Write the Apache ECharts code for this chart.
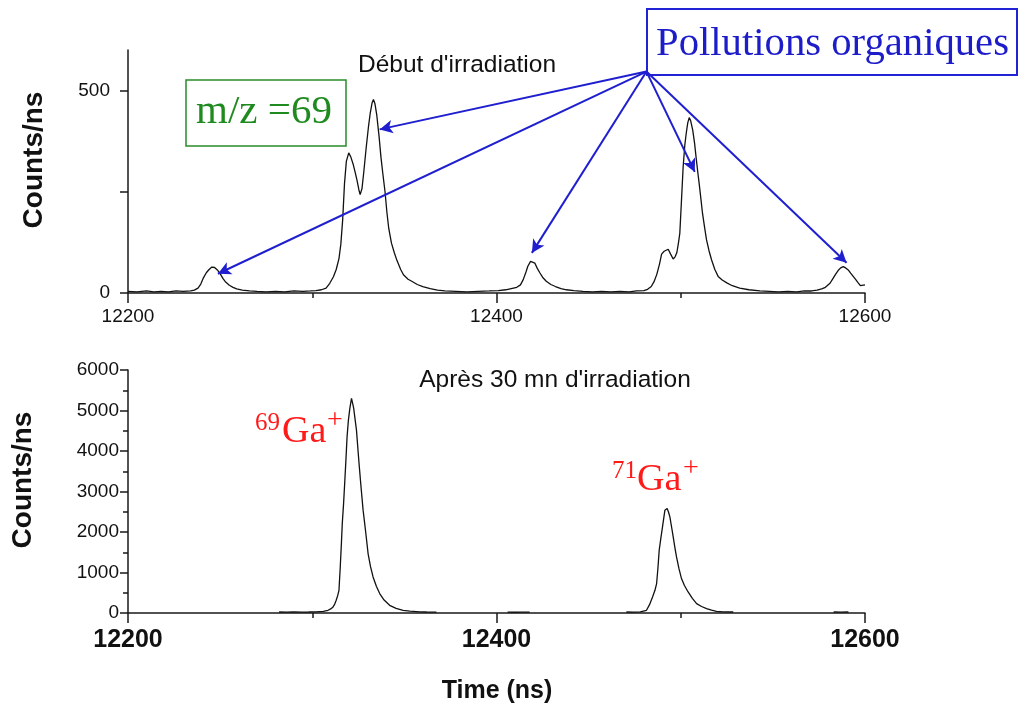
<!DOCTYPE html>
<html>
<head>
<meta charset="utf-8">
<script src="https://cdn.jsdelivr.net/npm/echarts@6/dist/echarts.min.js"></script>
<style>
  html, body { margin: 0; padding: 0; background: #ffffff; }
  #chart { width: 1018px; height: 708px; }
</style>
</head>
<body>
<div id="chart"></div>
<script>
// Time-of-flight spectrum at the start of irradiation (ns, counts/ns)
const topTime = [
  12200, 12205, 12210, 12214, 12218, 12222, 12226, 12230, 12234, 12236,
  12238, 12239.5, 12241, 12242.5, 12244, 12245.5, 12247, 12248.5, 12250, 12251.5,
  12253, 12255, 12257, 12259, 12262, 12266, 12270, 12275, 12280, 12285,
  12290, 12295, 12299, 12302, 12305, 12307.5, 12309.5, 12311.5, 12313, 12314.5,
  12315.5, 12316.5, 12317.5, 12318.5, 12319.8, 12321, 12322.2, 12323.3, 12324.3, 12325.3,
  12326, 12327, 12328, 12329.3, 12330.5, 12331.5, 12332.5, 12333.2, 12334, 12335,
  12336.3, 12337.3, 12338.3, 12339.5, 12340.5, 12341.5, 12343, 12344.5, 12346, 12348,
  12349.5, 12352, 12354, 12357, 12360, 12364, 12368, 12372, 12378, 12384,
  12390, 12396, 12401, 12405, 12408, 12411, 12413, 12414.5, 12416, 12417,
  12418.5, 12419.5, 12420.8, 12422, 12423.5, 12425, 12427, 12429.5, 12432, 12435,
  12438, 12442, 12447, 12452, 12457, 12462, 12467, 12472, 12476, 12480,
  12482, 12484, 12485.5, 12487, 12488.5, 12489.6, 12491, 12492, 12493.2, 12494.5,
  12495.9, 12497, 12497.9, 12498.8, 12499.5, 12500.4, 12501.3, 12502.2, 12503, 12503.8,
  12504.6, 12505.4, 12506.5, 12507.5, 12508.3, 12509.2, 12510, 12511, 12511.8, 12513,
  12514, 12515.3, 12516.7, 12518.5, 12520.3, 12522.5, 12525, 12528, 12532, 12537,
  12543, 12548, 12553, 12558, 12563, 12567, 12571, 12574, 12576.5, 12578.5,
  12581, 12582.5, 12584, 12585.5, 12586.8, 12588.2, 12589.5, 12590.9, 12592.2, 12593.6,
  12595, 12596.3, 12597.5, 12598.5, 12600
];
const topCounts = [
  4, 3, 5, 3, 4, 3, 5, 4, 5, 7,
  12, 22, 38, 50, 58, 64, 63, 57, 48, 36,
  27, 19, 14, 10, 7, 5, 4, 3, 4, 3,
  5, 4, 5, 6, 8, 12, 24, 40, 58, 85,
  120, 180, 270, 325, 346, 335, 318, 298, 278, 255,
  243, 258, 300, 360, 410, 445, 470, 478, 468, 440,
  385, 335, 295, 250, 200, 160, 123, 100, 80, 58,
  45, 34, 29, 21, 16, 11, 7, 5, 4, 3,
  4, 5, 6, 8, 11, 14, 20, 33, 52, 66,
  78, 76, 74, 62, 50, 39, 29, 21, 16, 11,
  8, 6, 4, 3, 4, 3, 4, 3, 5, 6,
  9, 16, 28, 46, 72, 96, 103, 100, 108, 96,
  84, 90, 100, 125, 148, 229, 311, 365, 395, 420,
  433, 425, 402, 370, 336, 300, 270, 230, 197, 160,
  131, 105, 82, 58, 41, 32, 25, 18, 12, 8,
  5, 4, 3, 4, 3, 5, 5, 7, 10, 14,
  24, 35, 46, 56, 62, 65, 62, 57, 49, 41,
  33, 25, 18, 15, 20
];

// Spectrum after 30 min of irradiation; null marks a gap in the recording
const bottomTime = [
  12282, 12286, 12290, 12294, 12298, 12302, 12306, 12308.6, 12310, 12311.3,
  12312.2, 12313, 12313.8, 12314.5, 12315.2, 12315.8, 12316.3, 12317, 12317.6, 12318.3,
  12318.9, 12319.6, 12320.4, 12321.3, 12321.9, 12322.5, 12323.2, 12324, 12324.7, 12325.4,
  12326.5, 12327.6, 12329, 12330.3, 12331.6, 12333, 12334.8, 12336.6, 12339, 12342,
  12345.5, 12349.3, 12353, 12358.4, 12362, 12367.4, 12387,
  12406, 12410, 12414, 12418, 12444,
  12470.5, 12474, 12478, 12481.4, 12483, 12484.7, 12486, 12486.9, 12487.6, 12488.3,
  12489.2, 12490.1, 12491.4, 12492.6, 12493.3, 12494.1, 12495, 12495.9, 12496.8, 12497.7,
  12499, 12500.4, 12502, 12504, 12506.3, 12508.6, 12511.3, 12514, 12516.7, 12519.4,
  12523, 12528.5, 12555,
  12583, 12587, 12591
];
const bottomCounts = [
  25, 20, 28, 22, 25, 30, 40, 67, 100, 150,
  220, 314, 430, 561, 1137, 1700, 2210, 2700, 3199, 3800,
  4351, 4750, 5052, 5300, 5180, 5052, 4800, 4516, 4100, 3693,
  3100, 2539, 2000, 1468, 1150, 890, 660, 480, 320, 190,
  115, 67, 45, 30, 25, 22, null,
  20, 18, 22, 20, null,
  25, 22, 30, 67, 200, 396, 560, 727, 1100, 1550,
  1850, 2126, 2539, 2580, 2500, 2373, 2130, 1879, 1620, 1384,
  1100, 850, 680, 519, 360, 232, 160, 109, 70, 42,
  30, 25, null,
  25, 20, 25
];

const timeTicks = [12200, 12400, 12600];
const topCountTicks = [0, 250, 500];
const topCountLabels = [0, 500];
const bottomCountTicks = [0, 1000, 2000, 3000, 4000, 5000, 6000];

// Arrows from the "Pollutions organiques" box to the contamination peaks
const arrowSource = [12481.4, 546.7];
const arrowTargets = [
  [12336.6, 404],
  [12248.8, 47.5],
  [12419.2, 99],
  [12507.6, 299],
  [12590, 74.5]
];

const SANS = 'Liberation Sans';
const SERIF = 'Liberation Serif';
const INK = '#1a1a1a';
const plain = v => String(v);

function timeAxis(gridIndex, labelSize, labelWeight, margin) {
  return {
    type: 'value', gridIndex: gridIndex,
    min: 12200, max: 12600, interval: 200,
    axisLine: { show: true, onZero: false, lineStyle: { color: INK, width: 1.5 } },
    axisTick: { show: true, length: 10, lineStyle: { color: INK, width: 1.5 } },
    minorTick: { show: true, splitNumber: 2, length: 5, lineStyle: { color: INK, width: 1.5 } },
    splitLine: { show: false },
    axisLabel: {
      customValues: timeTicks,
      fontFamily: SANS, fontSize: labelSize, fontWeight: labelWeight, color: '#111',
      margin: margin, formatter: plain
    }
  };
}

const chart = echarts.init(document.getElementById('chart'), null, { renderer: 'canvas' });

chart.setOption({
  animation: false,
  backgroundColor: '#ffffff',
  grid: [
    { left: 128, right: 153, top: 50, bottom: 415, containLabel: false },
    { left: 128, right: 153, top: 370, bottom: 95, containLabel: false }
  ],
  xAxis: [
    timeAxis(0, 19, 'normal', 14),
    timeAxis(1, 25, 'bold', 15)
  ],
  yAxis: [
    {
      type: 'value', gridIndex: 0, min: 0, max: 600,
      axisLine: { show: true, lineStyle: { color: INK, width: 1.5 } },
      axisTick: { show: true, length: 8, customValues: topCountTicks, lineStyle: { color: INK, width: 1.5 } },
      splitLine: { show: false },
      axisLabel: { customValues: topCountLabels, fontFamily: SANS, fontSize: 19, color: '#111', margin: 18, formatter: plain }
    },
    {
      type: 'value', gridIndex: 1, min: 0, max: 6000, interval: 1000,
      axisLine: { show: true, lineStyle: { color: INK, width: 1.5 } },
      axisTick: { show: true, length: 8, lineStyle: { color: INK, width: 1.5 } },
      minorTick: { show: true, splitNumber: 2, length: 5, lineStyle: { color: INK, width: 1.5 } },
      splitLine: { show: false },
      axisLabel: { customValues: bottomCountTicks, fontFamily: SANS, fontSize: 19, color: '#111', margin: 9, formatter: plain }
    }
  ],
  series: [
    {
      type: 'line', xAxisIndex: 0, yAxisIndex: 0,
      symbol: 'none', showSymbol: false,
      lineStyle: { color: '#111', width: 1.3 },
      data: topTime.map((t, i) => [t, topCounts[i]]),
      markLine: {
        silent: true,
        symbol: ['none', 'arrow'],
        symbolSize: [10, 13],
        label: { show: false },
        lineStyle: { color: '#1f1fd0', width: 2, type: 'solid' },
        emphasis: { disabled: true },
        data: arrowTargets.map(p => [{ coord: arrowSource }, { coord: p }])
      }
    },
    {
      type: 'line', xAxisIndex: 1, yAxisIndex: 1,
      symbol: 'none', showSymbol: false, connectNulls: false,
      lineStyle: { color: '#111', width: 1.3 },
      data: bottomTime.map((t, i) => [t, bottomCounts[i] === null ? '-' : bottomCounts[i]])
    }
  ],
  graphic: [
    // panel headings
    { type: 'text', x: 457, y: 65, style: { text: "Début d'irradiation", fontFamily: SANS, fontSize: 24.5, fill: '#111', align: 'center', verticalAlign: 'middle' } },
    { type: 'text', x: 555, y: 380, style: { text: "Après 30 mn d'irradiation", fontFamily: SANS, fontSize: 24.5, fill: '#111', align: 'center', verticalAlign: 'middle' } },
    // axis titles
    { type: 'text', x: 34, y: 160, rotation: Math.PI / 2, style: { text: 'Counts/ns', fontFamily: SANS, fontSize: 28, fontWeight: 'bold', fill: '#111', align: 'center', verticalAlign: 'middle' } },
    { type: 'text', x: 23, y: 480, rotation: Math.PI / 2, style: { text: 'Counts/ns', fontFamily: SANS, fontSize: 28, fontWeight: 'bold', fill: '#111', align: 'center', verticalAlign: 'middle' } },
    { type: 'text', x: 497, y: 691, style: { text: 'Time (ns)', fontFamily: SANS, fontSize: 25, fontWeight: 'bold', fill: '#111', align: 'center', verticalAlign: 'middle' } },
    // m/z box
    { type: 'rect', shape: { x: 186, y: 80, width: 160, height: 66 }, style: { fill: '#ffffff', stroke: '#2a8c2a', lineWidth: 1.5 } },
    { type: 'text', x: 264, y: 112, style: { text: 'm/z =69', fontFamily: SERIF, fontSize: 41, fill: '#1f8a1f', align: 'center', verticalAlign: 'middle' } },
    // organic pollution box
    { type: 'rect', shape: { x: 647, y: 9, width: 370, height: 66 }, style: { fill: '#ffffff', stroke: '#2323d6', lineWidth: 2 } },
    { type: 'text', x: 656, y: 44, style: { text: 'Pollutions organiques', fontFamily: SERIF, fontSize: 40.7, fill: '#1c1cc8', align: 'left', verticalAlign: 'middle' } },
    // isotope labels
    { type: 'text', x: 255, y: 423, style: { text: '69', fontFamily: SERIF, fontSize: 25, fill: '#ff1a1a', align: 'left', verticalAlign: 'middle' } },
    { type: 'text', x: 282, y: 432, style: { text: 'Ga', fontFamily: SERIF, fontSize: 38, fill: '#ff1a1a', align: 'left', verticalAlign: 'middle' } },
    { type: 'text', x: 327, y: 421, style: { text: '+', fontFamily: SERIF, fontSize: 28, fill: '#ff1a1a', align: 'left', verticalAlign: 'middle' } },
    { type: 'text', x: 612, y: 471, style: { text: '71', fontFamily: SERIF, fontSize: 25, fill: '#ff1a1a', align: 'left', verticalAlign: 'middle' } },
    { type: 'text', x: 637, y: 480, style: { text: 'Ga', fontFamily: SERIF, fontSize: 38, fill: '#ff1a1a', align: 'left', verticalAlign: 'middle' } },
    { type: 'text', x: 683, y: 469, style: { text: '+', fontFamily: SERIF, fontSize: 28, fill: '#ff1a1a', align: 'left', verticalAlign: 'middle' } }
  ]
});
</script>
</body>
</html>
